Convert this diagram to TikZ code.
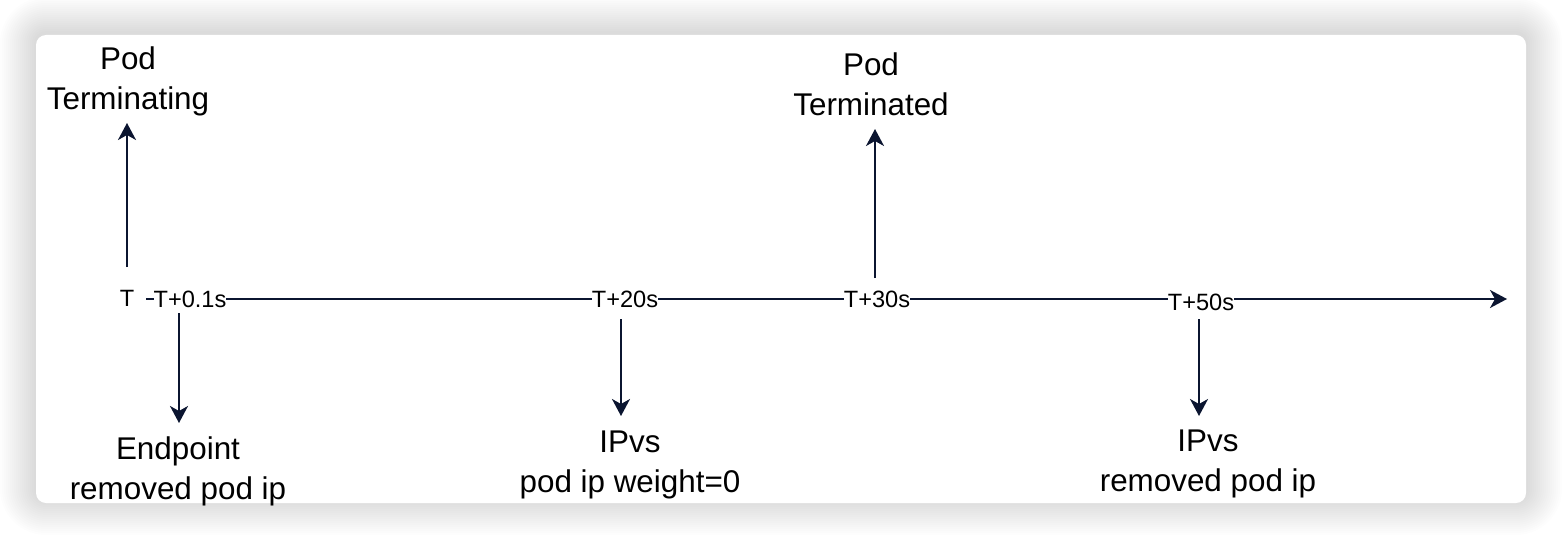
\documentclass[tikz,border=0pt]{standalone}
\usepackage{fontspec}
\setmainfont{Liberation Sans}
\usepackage{xcolor}
\usetikzlibrary{arrows.meta}
\definecolor{ink}{HTML}{0B1530}

\begin{document}
\begin{tikzpicture}[
        x=0.5pt, y=-0.5pt,
        stamp/.style={font={\fontsize{11.8pt}{14pt}\selectfont},
            fill=white, inner xsep=0pt, inner ysep=2pt},
        event/.style={font={\fontsize{15.7pt}{20pt}\selectfont},
            align=center, inner xsep=0pt},
        flow/.style={ink, line width=1pt,
            -{Stealth[length=8.5pt, width=9pt, inset=2.5pt]}},
        ]
        % page and card
        \useasboundingbox (0, 0) rectangle (1562, 540);
        \fill[white] (0, 0) rectangle (1562, 540);
        % soft shadow, stacked layers
        \foreach \r in {1,...,18}
            \fill[black, opacity=0.007, rounded corners=5pt+\r pt]
                (36-2*\r, 35-2*\r-2) rectangle (1526+2*\r, 503+2*\r-4);
        \fill[white, rounded corners=5pt] (36, 35) rectangle (1526, 503);

        % time line
        \coordinate (start) at (146, 299);
        \coordinate (end) at (1507, 299);
        \draw[flow] (start) -- (end);

        % time stamps
        \node[stamp] (t0) at (127, 298) {T};
        \node[stamp] (t01) at (190, 299) {T+0.1s};
        \node[stamp] (t20) at (625, 299) {T+20s};
        \node[stamp] (t30) at (877, 299) {T+30s};
        \node[stamp] (t50) at (1201, 302) {T+50s};

        % T
        \coordinate (a0) at (127, 267);
        \node[event, anchor=south, inner ysep=3.5pt] (podtm) at (128, 123) {Pod\\Terminating};
        \draw[flow] (a0) -- (a0 |- podtm.south);

        % T+0.1s
        \coordinate (a01) at (179, 313);
        \node[event, anchor=north, inner ysep=6.5pt] (endp) at (178, 423) {Endpoint\\removed pod ip};
        \draw[flow] (a01) -- (a01 |- endp.north);

        % T+20s
        \coordinate (a20) at (621, 319);
        \node[event, anchor=north, inner ysep=7pt] (ipvs20) at (630, 416) {IPvs\\pod ip weight=0};
        \draw[flow] (a20) -- (a20 |- ipvs20.north);

        % T+30s
        \coordinate (a30) at (875, 278);
        \node[event, anchor=south, inner ysep=6.5pt] (podtd) at (871, 129) {Pod\\Terminated};
        \draw[flow] (a30) -- (a30 |- podtd.south);

        % T+50s
        \coordinate (a50) at (1199, 319);
        \node[event, anchor=north, inner ysep=6.5pt] (ipvs50) at (1208, 416) {IPvs\\removed pod ip};
        \draw[flow] (a50) -- (a50 |- ipvs50.north);
    \end{tikzpicture}
\end{document}
